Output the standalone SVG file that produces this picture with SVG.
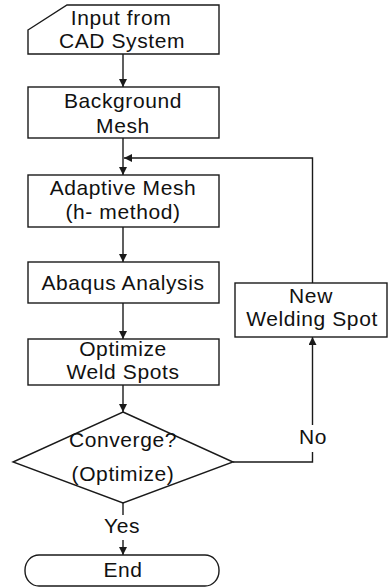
<svg xmlns="http://www.w3.org/2000/svg" width="388" height="587" viewBox="0 0 388 587">
  <defs>
    <marker id="arrow" viewBox="0 0 10 10" refX="10" refY="5" markerWidth="8" markerHeight="8" markerUnits="userSpaceOnUse" orient="auto">
      <path d="M0,0 L10,5 L0,10 Z" fill="#1a1a1a"/>
    </marker>
    <style>
      .shape { fill: #ffffff; stroke: #1a1a1a; stroke-width: 1.4; }
      .line { fill: none; stroke: #1a1a1a; stroke-width: 1.4; }
      text { font-family: "Liberation Sans", Arial, sans-serif; font-size: 21px; fill: #111111; text-anchor: middle; letter-spacing: 0.6px; }
    </style>
  </defs>
  <rect width="388" height="587" fill="#ffffff"/>

  <!-- connectors -->
  <g id="connectors">
    <line class="line" x1="123" y1="54" x2="123" y2="87" marker-end="url(#arrow)"/>
    <line class="line" x1="123" y1="138" x2="123" y2="175" marker-end="url(#arrow)"/>
    <line class="line" x1="123" y1="227" x2="123" y2="262" marker-end="url(#arrow)"/>
    <line class="line" x1="123" y1="303" x2="123" y2="339" marker-end="url(#arrow)"/>
    <line class="line" x1="123" y1="385" x2="123" y2="412" marker-end="url(#arrow)"/>
    <!-- Yes branch -->
    <line class="line" x1="123" y1="503" x2="123" y2="515"/>
    <line class="line" x1="123" y1="540" x2="123" y2="555" marker-end="url(#arrow)"/>
    <!-- No branch -->
    <polyline class="line" points="233,462 312.5,462 312.5,452"/>
    <line class="line" x1="312.5" y1="425" x2="312.5" y2="337" marker-end="url(#arrow)"/>
    <!-- feedback loop -->
    <polyline class="line" points="312.5,283 312.5,158 124,158" marker-end="url(#arrow)"/>
  </g>

  <g id="input">
    <path class="shape" d="M28,30 L67,5 L219,5 L219,54 L28,54 Z"/>
    <text x="121" y="25">Input from</text>
    <text x="122" y="48">CAD System</text>
  </g>

  <g id="background-mesh">
    <rect class="shape" x="28" y="87" width="191" height="51"/>
    <text x="123" y="108">Background</text>
    <text x="123" y="133">Mesh</text>
  </g>

  <g id="adaptive-mesh">
    <rect class="shape" x="28" y="175" width="191" height="52"/>
    <text x="123" y="195">Adaptive Mesh</text>
    <text x="123" y="219">(h- method)</text>
  </g>

  <g id="abaqus">
    <rect class="shape" x="28" y="262" width="191" height="41"/>
    <text x="123" y="290">Abaqus Analysis</text>
  </g>

  <g id="optimize">
    <rect class="shape" x="28" y="339" width="191" height="46"/>
    <text x="123" y="356">Optimize</text>
    <text x="123" y="379">Weld Spots</text>
  </g>

  <g id="converge">
    <path class="shape" d="M123,412 L233,462 L123,503 L13,462 Z"/>
    <text x="123" y="447">Converge?</text>
    <text x="123" y="481">(Optimize)</text>
  </g>

  <g id="new-spot">
    <rect class="shape" x="235" y="283" width="152" height="54"/>
    <text x="311" y="303">New</text>
    <text x="312" y="326">Welding Spot</text>
  </g>

  <g id="end">
    <rect class="shape" x="25" y="555" width="194" height="31" rx="14" ry="15"/>
    <text x="123" y="577">End</text>
  </g>

  <g id="branch-labels">
    <text x="313" y="444">No</text>
    <text x="122" y="533">Yes</text>
  </g>
</svg>
